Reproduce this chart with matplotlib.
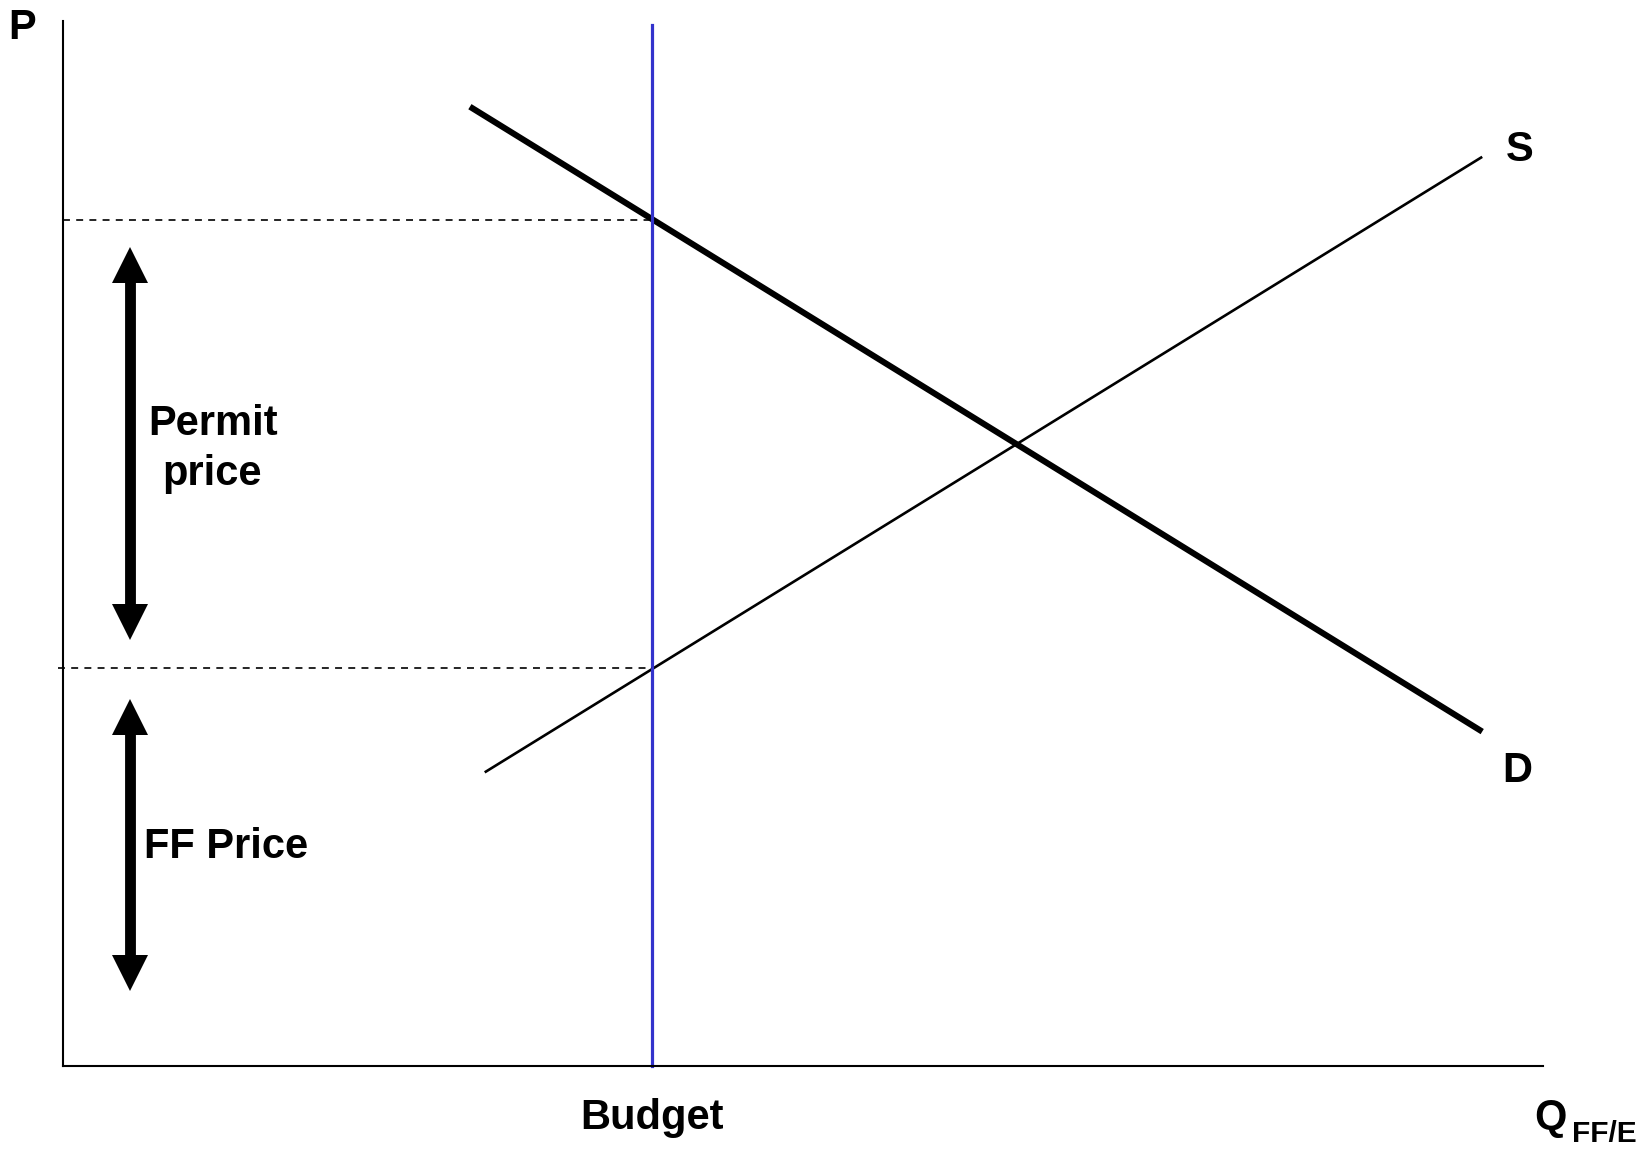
import matplotlib
matplotlib.use("Agg")
import matplotlib.pyplot as plt

plt.rcParams['font.family'] = ['Liberation Sans', 'DejaVu Sans']
plt.rcParams['font.weight'] = 'bold'
plt.rcParams['lines.scale_dashes'] = False

# ---- data (abstract quantity / price units, 0-100) ----
demand_q = [27.5, 95.9]
demand_p = [91.8, 32.0]
supply_q = [28.5, 95.9]
supply_p = [28.1, 87.0]
budget_q = 39.8
budget_top = 99.6
permit_p_high = 81.0   # demand price at budget
ff_p_low = 38.1        # supply price at budget
permit_arrow = [78.3, 40.8]
ff_arrow = [35.1, 7.2]
arrow_q = 4.53

W, H, DPI = 1643, 1150, 100
fig = plt.figure(figsize=(W / DPI, H / DPI), dpi=DPI)
ax_h_px = 1045
ax = fig.add_axes([62.9 / W, (H - 1066) / H, 1480 / W, ax_h_px / H])
ax.set_xlim(0, 100)
ax.set_ylim(0, 100)
for s in ['top', 'right']:
    ax.spines[s].set_visible(False)
for s in ['left', 'bottom']:
    ax.spines[s].set_linewidth(1.5)
    ax.spines[s].set_color('black')
ax.set_xticks([])
ax.set_yticks([])

# curves
ax.plot(demand_q, demand_p, color='black', lw=4.4, solid_capstyle='butt', clip_on=False)
ax.plot(supply_q, supply_p, color='black', lw=1.9, solid_capstyle='butt', clip_on=False)

# budget vertical line
ax.plot([budget_q, budget_q], [0, budget_top], color='#3333cc', lw=2.3, clip_on=False)

# dashed price lines
ax.plot([0, budget_q], [permit_p_high, permit_p_high], color='black', lw=1.2,
        dashes=(5, 4.5), clip_on=False)
ax.plot([-0.3, budget_q], [ff_p_low, ff_p_low], color='black', lw=1.2,
        dashes=(5, 4.5), clip_on=False)

# double-headed arrows: shaft line + triangle heads
head_pt = 25.5
head_len = head_pt * DPI / 72 / (ax_h_px / 100)   # head length in data units

def double_arrow(x, top, bottom):
    ax.plot([x, x], [top - head_len * 0.95, bottom + head_len * 0.95], color='black',
            lw=7.8, solid_capstyle='butt', clip_on=False)
    ax.plot([x], [top - head_len / 2], marker='^', ms=head_pt, mew=0, color='black',
            clip_on=False)
    ax.plot([x], [bottom + head_len / 2], marker='v', ms=head_pt, mew=0, color='black',
            clip_on=False)

double_arrow(arrow_q, permit_arrow[0], permit_arrow[1])
double_arrow(arrow_q, ff_arrow[0], ff_arrow[1])

fs = 30
kw = dict(fontsize=fs, fontweight='bold', color='black', clip_on=False)
ax.text(-2.76, 98.3, 'P', ha='center', va='baseline', **kw)
ax.text(98.4, 86.6, 'S', ha='center', va='baseline', **kw)
ax.text(98.3, 27.2, 'D', ha='center', va='baseline', **kw)
ax.text(budget_q, -6.03, 'Budget', ha='center', va='baseline', **kw)
ax.text(99.4, -6.03, 'Q', ha='left', va='baseline', **kw)
ax.text(101.95, -7.27, 'FF/E', ha='left', va='baseline', fontsize=21.5, fontweight='bold',
        color='black', clip_on=False)
ax.text(10.15, 60.4, 'Permit', ha='center', va='baseline', **kw)
ax.text(10.1, 55.6, 'price', ha='center', va='baseline', **kw)
ax.text(5.46, 19.9, 'FF Price', ha='left', va='baseline', **kw)

fig.savefig('out.png', dpi=DPI)
